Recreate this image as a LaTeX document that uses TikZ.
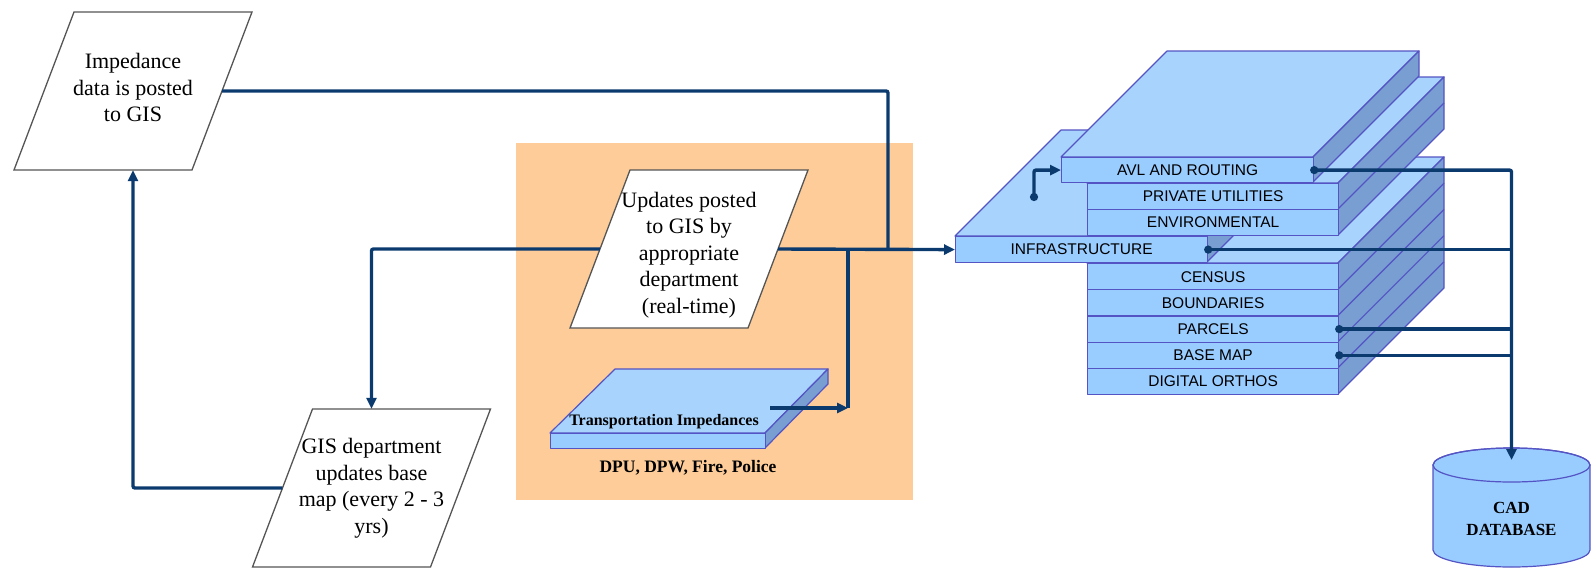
\documentclass[tikz,border=0pt]{standalone}
\usepackage{fontspec}
\setmainfont{Liberation Serif}
\newfontfamily\layersans{Liberation Sans}
\usetikzlibrary{arrows.meta}

\definecolor{navy}{RGB}{11,58,110}
\definecolor{peach}{RGB}{253,204,153}
\definecolor{lfront}{RGB}{153,204,255}
\definecolor{ltop}{RGB}{168,211,252}
\definecolor{lside}{RGB}{120,158,210}
\definecolor{ledge}{RGB}{84,84,196}
\definecolor{pgray}{RGB}{85,85,85}

\tikzset{
  flowline/.style={draw=pgray, line width=1.3pt, fill=white, line join=miter},
  flowbody/.style={rectangle, minimum width=178pt, minimum height=158pt, inner sep=0pt},
  flowtext/.style={align=center, inner sep=0pt, font=\rmfamily\fontsize{22}{26.5}\selectfont},
  conn/.style={draw=navy, line width=3.4pt, rounded corners=2pt},
  arr/.style={-{Triangle[length=11pt,width=10pt]}},
  dotarr/.style={{Circle[length=8pt]}-{Triangle[length=11pt,width=10pt]}, shorten <=-4pt},
  dotline/.style={{Circle[length=8pt]}-, shorten <=-4pt},
  face/.style={draw=ledge, line width=1.2pt, line join=round},
  front/.style={face, fill=lfront, inner sep=0pt, minimum height=26pt, anchor=north west,
    font=\layersans\fontsize{15.5}{18}\selectfont},
}

% a slanted flow step: name, centre x, centre y, text, text offset
\newcommand\flowstepbox[5]{%
  \filldraw[flowline] (#2-119,#3+79) -- (#2+59,#3+79) -- (#2+119,#3-79) -- (#2-59,#3-79) -- cycle;
  \node[flowbody] (#1) at (#2,#3) {};
  \node[flowtext] (#1-text) at (#2,#3+#5) {#4};}

\begin{document}
\begin{tikzpicture}[x=1pt,y=-1pt]
\useasboundingbox (0,0) rectangle (1592,568);

% department panel
\fill[peach] (516,143) rectangle (913,500);

% flow steps
\flowstepbox{imp}{133}{91}{Impedance\\data is posted\\to GIS}{-3.5}
\flowstepbox{upd}{689}{249}{Updates posted\\to GIS by\\appropriate\\department\\(real-time)}{6}
\flowstepbox{gis}{371.5}{488}{GIS department\\updates base\\map (every 2 - 3\\yrs)}{0}

% transportation impedances layer
\filldraw[face, fill=ltop] (550,433) -- (765,433) -- (828,369) -- (615,369) -- cycle;
\filldraw[face, fill=lside] (765,433) -- (828,369) -- (828,384) -- (765,448) -- cycle;
\node[face, fill=lfront, minimum width=215pt, minimum height=15pt, anchor=north west, inner sep=0pt] (tfront) at (550,433) {};
\node[font=\rmfamily\bfseries\fontsize{16}{18}\selectfont] (ttitle) at (664,422) {Transportation Impedances};
\node[font=\rmfamily\bfseries\fontsize{17.5}{20}\selectfont] (tdept) at (688,468) {DPU, DPW, Fire, Police};

% lower stack of layers
\filldraw[face, fill=ltop] (1087,263) -- (1338,263) -- (1444,157) -- (1193,157) -- cycle;
\filldraw[face, fill=lside] (1338,263) -- (1444,157) -- (1444,288) -- (1338,394) -- cycle;
\foreach \k in {1,...,4} \draw[face] (1338,{263+26.2*\k}) -- (1444,{157+26.2*\k});
\node[front, minimum width=251pt, minimum height=26.2pt] (census) at (1087,263) {CENSUS};
\node[front, minimum width=251pt, minimum height=26.2pt] (bound) at (1087,289.2) {BOUNDARIES};
\node[front, minimum width=251pt, minimum height=26.2pt] (parcels) at (1087,315.4) {PARCELS};
\node[front, minimum width=251pt, minimum height=26.2pt] (basemap) at (1087,341.6) {BASE MAP};
\node[front, minimum width=251pt, minimum height=26.2pt] (ortho) at (1087,367.8) {DIGITAL ORTHOS};

% infrastructure layer
\filldraw[face, fill=ltop] (955,236) -- (1207,236) -- (1313,130) -- (1061,130) -- cycle;
\filldraw[face, fill=lside] (1207,236) -- (1313,130) -- (1313,156) -- (1207,262) -- cycle;
\node[front, minimum width=252pt] (infra) at (955,236) {INFRASTRUCTURE};

% middle stack of layers
\filldraw[face, fill=ltop] (1087,183) -- (1338,183) -- (1444,77) -- (1193,77) -- cycle;
\filldraw[face, fill=lside] (1338,183) -- (1444,77) -- (1444,129) -- (1338,235) -- cycle;
\draw[face] (1338,209) -- (1444,103);
\node[front, minimum width=251pt] (priv) at (1087,183) {PRIVATE UTILITIES};
\node[front, minimum width=251pt] (env) at (1087,209) {ENVIRONMENTAL};

% AVL and routing layer
\filldraw[face, fill=ltop] (1061,157) -- (1313,157) -- (1419,51) -- (1167,51) -- cycle;
\filldraw[face, fill=lside] (1313,157) -- (1419,51) -- (1419,76) -- (1313,182) -- cycle;
\node[front, minimum width=252pt, minimum height=25pt] (avl) at (1061,157) {AVL AND ROUTING};

% CAD database
\filldraw[face, fill=lfront] (1433,465) -- (1433,550)
  arc[start angle=180, end angle=360, x radius=78.5pt, y radius=17pt]
  -- (1590,465) arc[start angle=0, end angle=180, x radius=78.5pt, y radius=17pt] -- cycle;
\draw[face] (1511.5,465) ellipse [x radius=78.5pt, y radius=17pt];
\node[font=\rmfamily\bfseries\fontsize{17}{22}\selectfont, align=center] (cad) at (1511.5,519) {CAD\\DATABASE};

% connectors
\coordinate (j1) at (888,249);
\coordinate (j2) at (848,408);
\coordinate (j3) at (848,249);
\coordinate (tsrc) at (770,408);
\coordinate (ksrc) at (1034,197);
\coordinate (cadin) at (1511.5,460);

\draw[conn] (imp.east) -| (j1);
\draw[conn, arr] (upd.east) -- (infra.west);
\draw[conn, arr] (upd.west) -| (gis.north);
\draw[conn, arr] (gis.west) -| (imp.south);
\draw[conn] (j3) -- (j2);
\draw[conn, arr] (tsrc) -- (j2);

\draw[conn, dotarr] (ksrc) |- (avl.west);
\draw[conn, dotarr] (avl.east) -| (cadin);
\draw[conn, dotline] (infra.east) -- (infra.east -| cadin);
\draw[conn, dotline] (parcels.east) -- (parcels.east -| cadin);
\draw[conn, dotline] (basemap.east) -- (basemap.east -| cadin);
\end{tikzpicture}
\end{document}
